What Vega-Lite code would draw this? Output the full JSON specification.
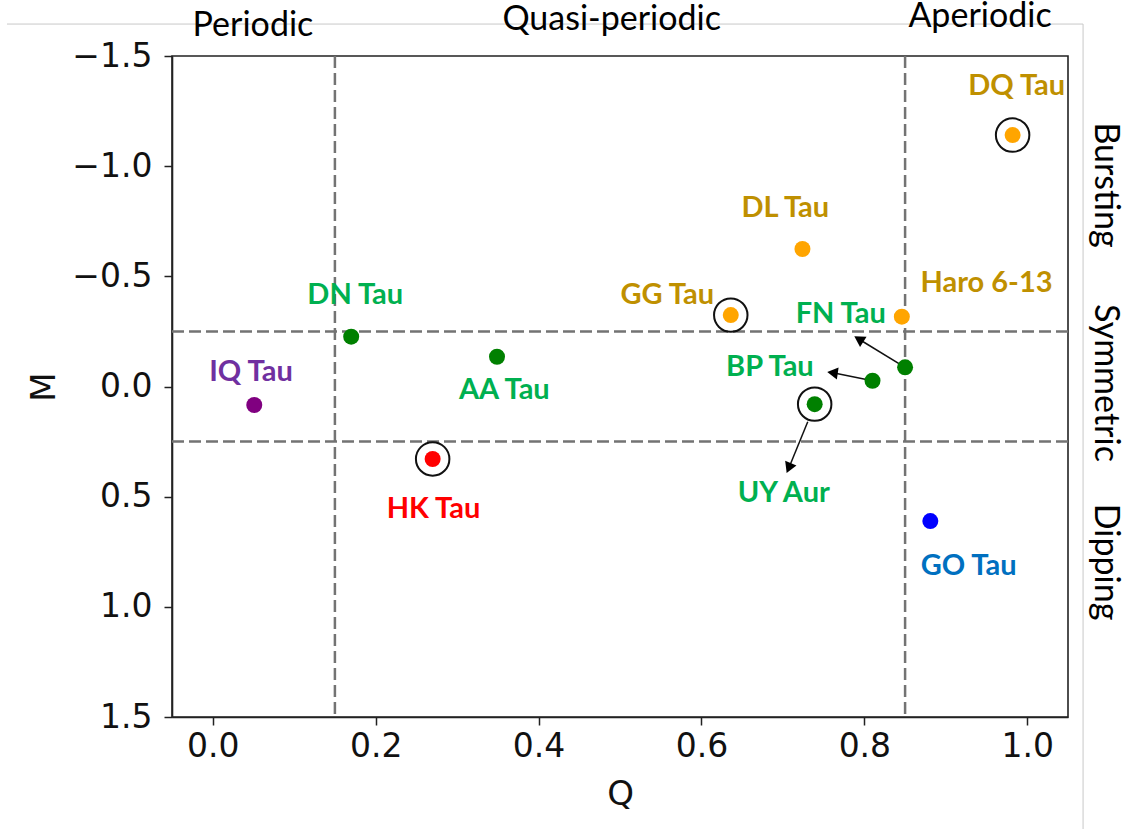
{
  "$schema": "https://vega.github.io/schema/vega-lite/v6.json",
  "width": 896,
  "height": 661,
  "autosize": {"type": "none"},
  "padding": {"left": 172, "top": 56, "right": 64, "bottom": 112},
  "background": "white",
  "datasets": {
    "stars": [
      {"name": "IQ Tau", "Q": 0.051, "M": 0.084, "group": "A", "ring": false, "lq": 0.047, "lm": -0.025},
      {"name": "DN Tau", "Q": 0.170, "M": -0.226, "group": "B", "ring": false, "lq": 0.175, "lm": -0.373},
      {"name": "HK Tau", "Q": 0.270, "M": 0.329, "group": "C", "ring": true, "lq": 0.271, "lm": 0.599},
      {"name": "AA Tau", "Q": 0.349, "M": -0.135, "group": "B", "ring": false, "lq": 0.358, "lm": 0.058},
      {"name": "GG Tau", "Q": 0.636, "M": -0.324, "group": "D", "ring": true, "lq": 0.558, "lm": -0.373},
      {"name": "DL Tau", "Q": 0.724, "M": -0.624, "group": "D", "ring": false, "lq": 0.703, "lm": -0.771},
      {"name": "UY Aur", "Q": 0.739, "M": 0.080, "group": "B", "ring": true, "lq": 0.701, "lm": 0.526},
      {"name": "BP Tau", "Q": 0.810, "M": -0.026, "group": "B", "ring": false, "lq": 0.684, "lm": -0.047},
      {"name": "FN Tau", "Q": 0.850, "M": -0.087, "group": "B", "ring": false, "lq": 0.771, "lm": -0.287},
      {"name": "Haro 6-13", "Q": 0.846, "M": -0.317, "group": "D", "ring": false, "lq": 0.950, "lm": -0.427},
      {"name": "GO Tau", "Q": 0.881, "M": 0.611, "group": "E", "ring": false, "lq": 0.928, "lm": 0.856},
      {"name": "DQ Tau", "Q": 0.982, "M": -1.141, "group": "D", "ring": true, "lq": 0.987, "lm": -1.323}
    ],
    "vlines": [{"Q": 0.15}, {"Q": 0.85}],
    "hlines": [{"M": -0.25}, {"M": 0.25}],
    "arrows": [
      {"name": "FN Tau", "q1": 0.850, "m1": -0.087, "q2": 0.795, "m2": -0.211},
      {"name": "BP Tau", "q1": 0.810, "m1": -0.026, "q2": 0.763, "m2": -0.061},
      {"name": "UY Aur", "q1": 0.7305, "m1": 0.160, "q2": 0.708, "m2": 0.363}
    ],
    "frame": [
      {"q1": -0.2526, "q2": 1.0685, "m1": -1.645, "m2": -1.645},
      {"q1": 1.0685, "q2": 1.0685, "m1": -1.645, "m2": 2.009}
    ],
    "toplabels": [
      {"text": "Periodic", "q": 0.0494, "m": -1.591},
      {"text": "Quasi-periodic", "q": 0.4898, "m": -1.618},
      {"text": "Aperiodic", "q": 0.942, "m": -1.632}
    ],
    "sidelabels": [
      {"text": "Bursting", "q": 1.095, "m": -0.9145},
      {"text": "Symmetric", "q": 1.095, "m": -0.016},
      {"text": "Dipping", "q": 1.095, "m": 0.7966}
    ]
  },
  "layer": [
    {
      "data": {"name": "frame"},
      "mark": {"type": "rule", "color": "#c8c8c8", "strokeWidth": 1},
      "encoding": {
        "x": {"field": "q1", "type": "quantitative", "title": "Q", "scale": {"domain": [-0.05, 1.05], "nice": false, "zero": false},
          "axis": {"title": "Q", "values": [0, 0.2, 0.4, 0.6, 0.8, 1.0], "format": ".1f", "labelPadding": 5, "titlePadding": 14, "labelFlush": false, "labelOverlap": false}},
        "x2": {"field": "q2"},
        "y": {"field": "m1", "type": "quantitative", "title": "M", "scale": {"domain": [-1.5, 1.5], "reverse": true, "nice": false, "zero": false},
          "axis": {"title": "M", "values": [-1.5, -1.0, -0.5, 0.0, 0.5, 1.0, 1.5], "format": ".1f", "labelPadding": 12, "titlePadding": 10, "labelFlush": false, "labelOverlap": false}},
        "y2": {"field": "m2"}
      }
    },
    {
      "data": {"name": "vlines"},
      "mark": {"type": "rule", "color": "#737373", "strokeWidth": 2.5, "strokeDash": [12, 5]},
      "encoding": {
        "x": {"field": "Q", "type": "quantitative", "title": "Q", "scale": {"domain": [-0.05, 1.05], "nice": false, "zero": false}}
      }
    },
    {
      "data": {"name": "hlines"},
      "mark": {"type": "rule", "color": "#737373", "strokeWidth": 2.5, "strokeDash": [12, 5]},
      "encoding": {
        "y": {"field": "M", "type": "quantitative", "title": "M", "scale": {"domain": [-1.5, 1.5], "reverse": true, "nice": false, "zero": false}}
      }
    },
    {
      "data": {"name": "arrows"},
      "mark": {"type": "rule", "color": "#111", "strokeWidth": 1.5},
      "encoding": {
        "x": {"field": "q1", "type": "quantitative", "title": "Q", "scale": {"domain": [-0.05, 1.05], "nice": false, "zero": false}},
        "x2": {"field": "q2"},
        "y": {"field": "m1", "type": "quantitative", "title": "M", "scale": {"domain": [-1.5, 1.5], "reverse": true, "nice": false, "zero": false}},
        "y2": {"field": "m2"}
      }
    },
    {
      "data": {"name": "stars"},
      "mark": {"type": "point", "filled": true, "size": 256, "opacity": 1, "shape": "circle"},
      "encoding": {
        "x": {"field": "Q", "type": "quantitative", "title": "Q", "scale": {"domain": [-0.05, 1.05], "nice": false, "zero": false}},
        "y": {"field": "M", "type": "quantitative", "title": "M", "scale": {"domain": [-1.5, 1.5], "reverse": true, "nice": false, "zero": false}},
        "fill": {"field": "group", "type": "nominal", "scale": {"domain": ["A", "B", "C", "D", "E"], "range": ["#800080", "#008000", "#ff0000", "#ffa500", "#0000ff"]}, "legend": null}
      }
    },
    {
      "data": {"name": "stars"},
      "transform": [{"filter": "datum.ring"}],
      "mark": {"type": "point", "filled": false, "size": 1120, "stroke": "#111", "strokeWidth": 2, "opacity": 1, "shape": "circle"},
      "encoding": {
        "x": {"field": "Q", "type": "quantitative", "title": "Q", "scale": {"domain": [-0.05, 1.05], "nice": false, "zero": false}},
        "y": {"field": "M", "type": "quantitative", "title": "M", "scale": {"domain": [-1.5, 1.5], "reverse": true, "nice": false, "zero": false}}
      }
    },
    {
      "data": {"name": "arrows"},
      "transform": [{"filter": "datum.name === 'FN Tau'"}],
      "mark": {"type": "point", "shape": "triangle", "filled": true, "color": "#000", "opacity": 1, "size": 150, "angle": 302},
      "encoding": {
        "x": {"field": "q2", "type": "quantitative", "title": "Q", "scale": {"domain": [-0.05, 1.05], "nice": false, "zero": false}},
        "y": {"field": "m2", "type": "quantitative", "title": "M", "scale": {"domain": [-1.5, 1.5], "reverse": true, "nice": false, "zero": false}}
      }
    },
    {
      "data": {"name": "arrows"},
      "transform": [{"filter": "datum.name === 'BP Tau'"}],
      "mark": {"type": "point", "shape": "triangle", "filled": true, "color": "#000", "opacity": 1, "size": 150, "angle": 278},
      "encoding": {
        "x": {"field": "q2", "type": "quantitative", "title": "Q", "scale": {"domain": [-0.05, 1.05], "nice": false, "zero": false}},
        "y": {"field": "m2", "type": "quantitative", "title": "M", "scale": {"domain": [-1.5, 1.5], "reverse": true, "nice": false, "zero": false}}
      }
    },
    {
      "data": {"name": "arrows"},
      "transform": [{"filter": "datum.name === 'UY Aur'"}],
      "mark": {"type": "point", "shape": "triangle", "filled": true, "color": "#000", "opacity": 1, "size": 150, "angle": 203},
      "encoding": {
        "x": {"field": "q2", "type": "quantitative", "title": "Q", "scale": {"domain": [-0.05, 1.05], "nice": false, "zero": false}},
        "y": {"field": "m2", "type": "quantitative", "title": "M", "scale": {"domain": [-1.5, 1.5], "reverse": true, "nice": false, "zero": false}}
      }
    },
    {
      "data": {"name": "stars"},
      "mark": {"type": "text", "font": "Lato", "fontWeight": "bold", "fontSize": 29, "align": "center", "baseline": "alphabetic"},
      "encoding": {
        "x": {"field": "lq", "type": "quantitative", "title": "Q", "scale": {"domain": [-0.05, 1.05], "nice": false, "zero": false}},
        "y": {"field": "lm", "type": "quantitative", "title": "M", "scale": {"domain": [-1.5, 1.5], "reverse": true, "nice": false, "zero": false}},
        "text": {"field": "name"},
        "color": {"field": "group", "type": "nominal", "scale": {"domain": ["A", "B", "C", "D", "E"], "range": ["#7030a0", "#00b050", "#ff0000", "#bf9000", "#0070c0"]}, "legend": null}
      }
    },
    {
      "data": {"name": "toplabels"},
      "mark": {"type": "text", "font": "Lato", "fontSize": 34, "color": "#000", "align": "center", "baseline": "alphabetic"},
      "encoding": {
        "x": {"field": "q", "type": "quantitative", "title": "Q", "scale": {"domain": [-0.05, 1.05], "nice": false, "zero": false}},
        "y": {"field": "m", "type": "quantitative", "title": "M", "scale": {"domain": [-1.5, 1.5], "reverse": true, "nice": false, "zero": false}},
        "text": {"field": "text"}
      }
    },
    {
      "data": {"name": "sidelabels"},
      "mark": {"type": "text", "font": "Lato", "fontSize": 34, "color": "#000", "align": "center", "baseline": "middle", "angle": 90},
      "encoding": {
        "x": {"field": "q", "type": "quantitative", "title": "Q", "scale": {"domain": [-0.05, 1.05], "nice": false, "zero": false}},
        "y": {"field": "m", "type": "quantitative", "title": "M", "scale": {"domain": [-1.5, 1.5], "reverse": true, "nice": false, "zero": false}},
        "text": {"field": "text"}
      }
    }
  ],
  "config": {
    "view": {"stroke": "#222", "strokeWidth": 1.6},
    "axis": {
      "grid": false,
      "domain": true,
      "domainColor": "#222",
      "domainWidth": 1.6,
      "tickColor": "#222",
      "tickWidth": 1.5,
      "tickSize": 8,
      "labelFont": "DejaVu Sans",
      "labelFontSize": 33,
      "labelColor": "#111",
      "titleFont": "DejaVu Sans",
      "titleFontSize": 34,
      "titleFontWeight": "normal",
      "titleColor": "#111"
    }
  }
}
